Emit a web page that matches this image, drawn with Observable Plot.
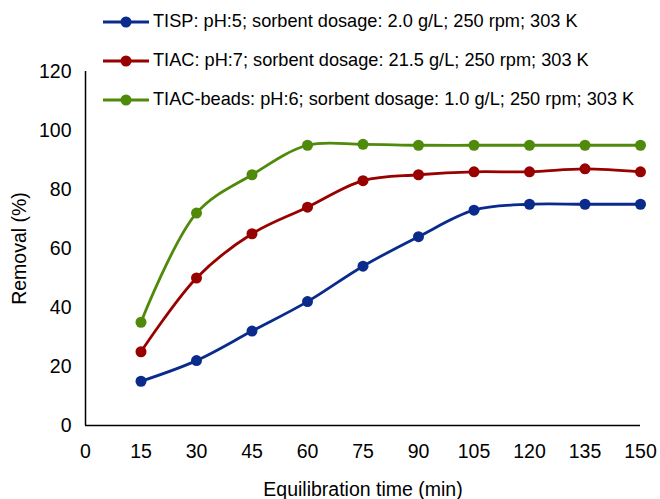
<!DOCTYPE html>
<html>
<head>
<meta charset="utf-8">
<script src="https://cdn.jsdelivr.net/npm/d3@7"></script>
<script src="https://cdn.jsdelivr.net/npm/@observablehq/plot@0.6"></script>
<style>
  html, body { margin: 0; padding: 0; background: #fff; }
  #wrap { position: relative; width: 660px; height: 499px; font-family: "Liberation Sans", Arial, sans-serif; }
  #legend { position: absolute; left: 102px; top: 2px; }
  .row { display: flex; align-items: center; height: 39px; font-size: 18.2px; color: #000; white-space: nowrap; }
  .row svg { margin-right: 3px; }
</style>
</head>
<body>
<div id="wrap"><div id="legend"></div></div>
<script>
const times = [15, 30, 45, 60, 75, 90, 105, 120, 135, 150];
const tisp  = [15, 22, 32, 42, 54, 64, 73, 75, 75, 75];
const tiac  = [25, 50, 65, 74, 83, 85, 86, 86, 87, 86];
const beads = [35, 72, 85, 95, 95.3, 95, 95, 95, 95, 95];

const seriesNames = [
  "TISP: pH:5; sorbent dosage: 2.0 g/L; 250 rpm; 303 K",
  "TIAC: pH:7; sorbent dosage: 21.5 g/L; 250 rpm; 303 K",
  "TIAC-beads: pH:6; sorbent dosage: 1.0 g/L; 250 rpm; 303 K"
];
const seriesColors = ["#0a2b8c", "#990000", "#4f8a0b"];
const xTicks = d3.range(0, 151, 15);
const yTicks = d3.range(0, 121, 20);

const data = [];
[tisp, tiac, beads].forEach((vals, s) => {
  vals.forEach((v, i) => data.push({series: seriesNames[s], time: times[i], removal: v}));
});

const chart = Plot.plot({
  width: 660,
  height: 499,
  marginLeft: 85,
  marginRight: 20,
  marginTop: 71,
  marginBottom: 74,
  style: {fontFamily: "'Liberation Sans', Arial, sans-serif", fontSize: "19.5px", color: "#000", background: "#fff"},
  x: {domain: [0, 150]},
  y: {domain: [0, 120]},
  color: {domain: seriesNames, range: seriesColors},
  marks: [
    Plot.axisX({ticks: xTicks, tickSize: 0, tickPadding: 19, label: "Equilibration time (min)", labelAnchor: "center", labelArrow: "none", labelOffset: 70, fontSize: 19.5}),
    Plot.axisY({ticks: yTicks, tickSize: 0, tickPadding: 14, label: "Removal (%)", labelAnchor: "center", labelArrow: "none", labelOffset: 73, fontSize: 19.5}),
    Plot.ruleX([0], {stroke: "#000", strokeWidth: 1.5}),
    Plot.ruleY([0], {stroke: "#000", strokeWidth: 1.5}),
    Plot.line(data, {x: "time", y: "removal", z: "series", stroke: "series", strokeWidth: 2.8, curve: "catmull-rom"}),
    Plot.dot(data, {x: "time", y: "removal", fill: "series", r: 5.5})
  ]
});
document.getElementById("wrap").prepend(chart);

const legend = d3.select("#legend");
seriesNames.forEach((name, i) => {
  const row = legend.append("div").attr("class", "row");
  const sw = row.append("svg").attr("width", 48).attr("height", 14);
  sw.append("line").attr("x1", 1).attr("x2", 47).attr("y1", 7).attr("y2", 7).attr("stroke", seriesColors[i]).attr("stroke-width", 2.8);
  sw.append("circle").attr("cx", 24).attr("cy", 7).attr("r", 5.5).attr("fill", seriesColors[i]);
  row.append("span").text(name);
});
</script>
</body>
</html>
